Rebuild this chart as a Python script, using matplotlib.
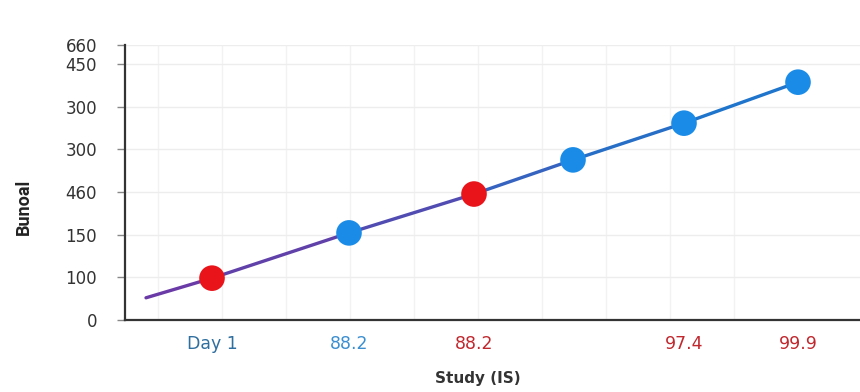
import matplotlib
matplotlib.use("Agg")
import matplotlib.pyplot as plt
import numpy as np
from matplotlib.collections import LineCollection
from matplotlib.colors import LinearSegmentedColormap

# ---- data ----
x_labels = ["Day 1", "88.2", "88.2", "", "97.4", "99.9"]
x_label_colors = ["#2f6f9f", "#3b8fd0", "#c0282e", "#c0282e", "#c0282e", "#c0282e"]
x_values = [0.87, 2.24, 3.49, 4.48, 5.59, 6.73]
y_values = [98, 204, 295, 375, 461, 557]
point_colors = ["#e8141a", "#1a8ce8", "#e8141a", "#1a8ce8", "#1a8ce8", "#1a8ce8"]
trend_start = (0.21, 52)

y_tick_pos = [0, 100, 200, 300, 400, 500, 600, 645]
y_tick_labels = ["0", "100", "150", "460", "300", "300", "450", "660"]

plt.rcParams["font.family"] = ["DejaVu Sans"]

fig = plt.figure(figsize=(8.6, 3.92), dpi=100)
ax = fig.add_axes([125 / 860, 1 - 320 / 392, 1 - 125 / 860, (320 - 44.6) / 392])

ax.set_xlim(0, 7.35)
ax.set_ylim(0, 645)

# faint grid
ax.set_xticks(np.arange(0.33, 7.35, 0.64), minor=True)
ax.grid(True, which="minor", axis="x", color="#f2f2f2", linewidth=1.0)
ax.set_yticks(y_tick_pos)
ax.set_yticklabels(y_tick_labels)
ax.grid(True, which="major", axis="y", color="#ededed", linewidth=1.0)

# trend line with purple-to-blue colour shift
lx = [trend_start[0]] + x_values
ly = [trend_start[1]] + y_values
segs = [[(lx[i], ly[i]), (lx[i + 1], ly[i + 1])] for i in range(len(lx) - 1)]
cmap = LinearSegmentedColormap.from_list("pb", ["#6a3aa6", "#5a45ac", "#2c6ac4", "#1f74cc"])
seg_colors = [cmap(v) for v in np.linspace(0, 1, len(segs))]
lc = LineCollection(segs, colors=seg_colors, linewidths=2.4, capstyle="round", zorder=3)
ax.add_collection(lc)

ax.scatter(x_values, y_values, s=340, c=point_colors, zorder=4, edgecolors="none",
           clip_on=False)

# axes styling
for side in ["top", "right"]:
    ax.spines[side].set_visible(False)
for side in ["left", "bottom"]:
    ax.spines[side].set_color("#333333")
    ax.spines[side].set_linewidth(1.6)

ax.set_xticks(x_values)
ax.set_xticklabels(x_labels)
for lbl, col in zip(ax.get_xticklabels(), x_label_colors):
    lbl.set_color(col)
ax.tick_params(axis="x", which="major", length=0, pad=11, labelsize=12.5)
ax.tick_params(axis="y", which="major", length=6, width=1, color="#888888",
               pad=14, labelsize=12, labelcolor="#333333")
ax.tick_params(axis="both", which="minor", length=0, width=0)

ax.set_xlabel("Study (IS)", fontsize=11, fontweight="bold", color="#333333")
ax.xaxis.set_label_coords(0.48, -0.185)
ax.set_ylabel("Bunoal", fontsize=13, fontweight="bold", color="#222222",
              family=["Liberation Sans Narrow", "Roboto", "DejaVu Sans"])
ax.yaxis.set_label_coords(-0.125, 0.41)

fig.savefig("out.png", dpi=100)
